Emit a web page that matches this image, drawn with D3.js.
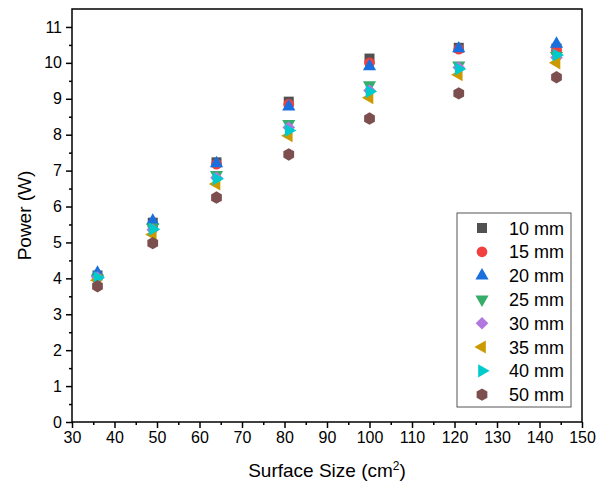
<!DOCTYPE html>
<html>
<head>
<meta charset="utf-8">
<script src="https://cdn.jsdelivr.net/npm/d3@7"></script>
<style>
  body { margin: 0; background: #fff; }
  svg { font-family: Arial, "Liberation Sans", sans-serif; }
</style>
</head>
<body>
<svg id="chart" width="597" height="492"></svg>
<script>
var surfaceSizes = [36, 49, 64, 81, 100, 121, 144];

var seriesNames = ["10 mm", "15 mm", "20 mm", "25 mm", "30 mm", "35 mm", "40 mm", "50 mm"];

var power10 = [4.08, 5.55, 7.23, 8.92, 10.12, 10.42, 10.40];
var power15 = [4.05, 5.50, 7.18, 8.85, 10.00, 10.38, 10.35];
var power20 = [4.15, 5.60, 7.20, 8.78, 9.90, 10.40, 10.53];
var power25 = [4.00, 5.42, 6.88, 8.30, 9.38, 9.93, 10.20];
var power30 = [4.02, 5.35, 6.80, 8.20, 9.23, 9.87, 10.15];
var power35 = [3.95, 5.22, 6.63, 7.97, 9.03, 9.67, 10.00];
var power40 = [4.02, 5.37, 6.77, 8.12, 9.20, 9.83, 10.22];
var power50 = [3.78, 4.98, 6.25, 7.45, 8.45, 9.15, 9.60];

var allPower = [power10, power15, power20, power25, power30, power35, power40, power50];

var xTicks = [30, 40, 50, 60, 70, 80, 90, 100, 110, 120, 130, 140, 150];
var yTicks = [0, 1, 2, 3, 4, 5, 6, 7, 8, 9, 10, 11];

var colors = ["#515151", "#F14040", "#1A6FDF", "#37AD6B", "#B177DE", "#CC9900", "#00CBCC", "#7D4E4E"];

var MARGIN = {left: 72, top: 9, right: 15, bottom: 70};
var WIDTH = 597, HEIGHT = 492;
var INNER_WIDTH = WIDTH - MARGIN.left - MARGIN.right;
var INNER_HEIGHT = HEIGHT - MARGIN.top - MARGIN.bottom;

var svg = d3.select("#chart");
var g = svg.append("g").attr("transform", "translate(" + MARGIN.left + "," + MARGIN.top + ")");

var xScale = d3.scaleLinear().domain([30, 150]).range([0, INNER_WIDTH]);
var yScale = d3.scaleLinear().domain([0, 11.5]).range([INNER_HEIGHT, 0]);

// symbol shapes, one per series
var triUp = {draw: function(ctx, size) {
  var s = Math.sqrt(size * 4 / Math.sqrt(3)), h = s * Math.sqrt(3) / 2;
  ctx.moveTo(0, -h * 2 / 3); ctx.lineTo(s / 2, h / 3); ctx.lineTo(-s / 2, h / 3); ctx.closePath();
}};
var triDown = {draw: function(ctx, size) {
  var s = Math.sqrt(size * 4 / Math.sqrt(3)), h = s * Math.sqrt(3) / 2;
  ctx.moveTo(0, h * 2 / 3); ctx.lineTo(s / 2, -h / 3); ctx.lineTo(-s / 2, -h / 3); ctx.closePath();
}};
var triLeft = {draw: function(ctx, size) {
  var s = Math.sqrt(size * 4 / Math.sqrt(3)), h = s * Math.sqrt(3) / 2;
  ctx.moveTo(-h * 2 / 3, 0); ctx.lineTo(h / 3, s / 2); ctx.lineTo(h / 3, -s / 2); ctx.closePath();
}};
var triRight = {draw: function(ctx, size) {
  var s = Math.sqrt(size * 4 / Math.sqrt(3)), h = s * Math.sqrt(3) / 2;
  ctx.moveTo(h * 2 / 3, 0); ctx.lineTo(-h / 3, s / 2); ctx.lineTo(-h / 3, -s / 2); ctx.closePath();
}};
var diamond = {draw: function(ctx, size) {
  var r = Math.sqrt(size / 2);
  ctx.moveTo(0, -r); ctx.lineTo(r, 0); ctx.lineTo(0, r); ctx.lineTo(-r, 0); ctx.closePath();
}};
var hexagon = {draw: function(ctx, size) {
  var r = Math.sqrt(size / (1.5 * Math.sqrt(3)));
  for (var i = 0; i < 6; i++) {
    var a = Math.PI / 6 + i * Math.PI / 3;
    if (i === 0) ctx.moveTo(r * Math.cos(a), r * Math.sin(a));
    else ctx.lineTo(r * Math.cos(a), r * Math.sin(a));
  }
  ctx.closePath();
}};

var shapes = [d3.symbolSquare, d3.symbolCircle, triUp, triDown, diamond, triLeft, triRight, hexagon];
var sizes = [100, 90, 75, 75, 80, 75, 75, 100];

// axes
var xAxis = d3.axisBottom(xScale).tickValues(xTicks).tickSize(6).tickPadding(4).tickFormat(d3.format("d"));
var xMinor = d3.axisBottom(xScale).tickValues(d3.range(35, 150, 10)).tickSize(3).tickFormat("");
var yAxis = d3.axisLeft(yScale).tickValues(yTicks).tickSize(6).tickPadding(4).tickFormat(d3.format("d"));
var yMinor = d3.axisLeft(yScale).tickValues(d3.range(0.5, 11.5, 1)).tickSize(3).tickFormat("");

function styleAxis(sel) {
  sel.select(".domain").remove();
  sel.selectAll("line").attr("stroke", "#000").attr("stroke-width", 1.5);
  sel.selectAll("text").attr("font-size", 16).attr("fill", "#000")
     .attr("font-family", "Arial, 'Liberation Sans', sans-serif");
}

g.append("g").attr("transform", "translate(0," + INNER_HEIGHT + ")").call(xAxis).call(styleAxis);
g.append("g").attr("transform", "translate(0," + INNER_HEIGHT + ")").call(xMinor).call(styleAxis);
g.append("g").call(yAxis).call(styleAxis);
g.append("g").call(yMinor).call(styleAxis);

// frame
g.append("rect")
  .attr("x", 0).attr("y", 0)
  .attr("width", INNER_WIDTH).attr("height", INNER_HEIGHT)
  .attr("fill", "none").attr("stroke", "#000").attr("stroke-width", 1.5);

// points
allPower.forEach(function(values, i) {
  var sym = d3.symbol().type(shapes[i]).size(sizes[i]);
  g.append("g").selectAll("path")
    .data(values)
    .enter().append("path")
    .attr("d", sym)
    .attr("fill", colors[i])
    .attr("transform", function(d, j) {
      return "translate(" + xScale(surfaceSizes[j]) + "," + yScale(d) + ")";
    });
});

// axis titles
svg.append("text")
  .attr("x", MARGIN.left + INNER_WIDTH / 2)
  .attr("y", 477)
  .attr("text-anchor", "middle")
  .attr("font-size", 19)
  .html('Surface Size (cm<tspan baseline-shift="super" font-size="12">2</tspan>)');

svg.append("text")
  .attr("transform", "translate(31," + (MARGIN.top + INNER_HEIGHT / 2) + ") rotate(-90)")
  .attr("text-anchor", "middle")
  .attr("font-size", 19)
  .text("Power (W)");

// legend
var legend = svg.append("g").attr("transform", "translate(457,213)");
legend.append("rect")
  .attr("width", 114).attr("height", 194)
  .attr("fill", "#fff").attr("stroke", "#555").attr("stroke-width", 1);

seriesNames.forEach(function(name, i) {
  var row = legend.append("g").attr("transform", "translate(0," + (15 + i * 23.8) + ")");
  row.append("path")
    .attr("d", d3.symbol().type(shapes[i]).size(sizes[i])())
    .attr("fill", colors[i])
    .attr("transform", "translate(25,0)");
  row.append("text")
    .attr("x", 52).attr("y", 6.5)
    .attr("font-size", 18)
    .text(name);
});
</script>
</body>
</html>
